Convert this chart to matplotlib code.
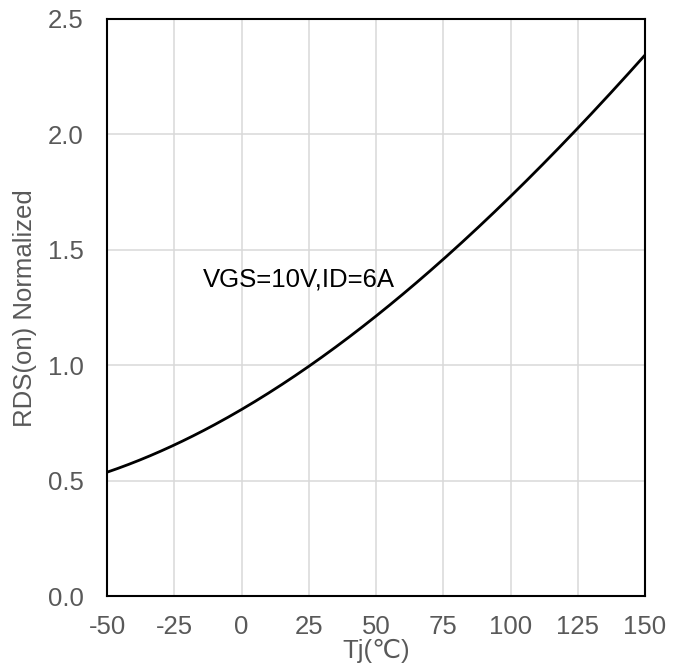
import matplotlib
matplotlib.use("Agg")
from matplotlib import pyplot as plt
import numpy as np

tj = [-50, -25, 0, 25, 50, 75, 100, 125, 150]
rds = [0.537, 0.654, 0.806, 1.0, 1.2, 1.47, 1.74, 2.01, 2.35]
x_ticks = [-50, -25, 0, 25, 50, 75, 100, 125, 150]
y_ticks = [0.0, 0.5, 1.0, 1.5, 2.0, 2.5]

plt.rcParams['font.family'] = ['Liberation Sans', 'DejaVu Sans']

fig = plt.figure(figsize=(6.81, 6.68), dpi=100)
ax = fig.add_axes([107 / 681, 1 - 596 / 668, (645 - 107) / 681, (596 - 19) / 668])

# smooth curve through the read points
xs = np.linspace(-50, 150, 201)
coef = np.polyfit(tj, rds, 3)
ax.plot(xs, np.polyval(coef, xs), color='black', lw=2.0, solid_capstyle='butt', zorder=3)

ax.set_xlim(-50, 150)
ax.set_ylim(0, 2.5)
ax.set_xticks(x_ticks)
ax.set_yticks(y_ticks)
ax.set_xticklabels([str(v) for v in x_ticks])
ax.set_yticklabels(["%.1f" % v for v in y_ticks])
ax.tick_params(axis='x', length=0, labelsize=18.5, labelcolor='#595959', pad=14)
ax.tick_params(axis='y', length=0, labelsize=18.5, labelcolor='#595959', pad=17)
ax.grid(True, color='#d9d9d9', lw=1.1)
ax.set_axisbelow(True)
for s in ax.spines.values():
    s.set_color('black')
    s.set_linewidth(1.5)

ax.text(-14.5, 1.37, "VGS=10V,ID=6A", fontsize=18.5, color='black', va='center', ha='left')

fig.text(25 / 681, 1 - 308 / 668, "RDS(on) Normalized", rotation=90, fontsize=18.5,
         color='#595959', ha='center', va='center')
fig.text(376 / 681, 1 - 651 / 668, "Tj(℃)", fontsize=18.5, color='#595959',
         ha='center', va='center')

fig.savefig("out.png", dpi=100)
